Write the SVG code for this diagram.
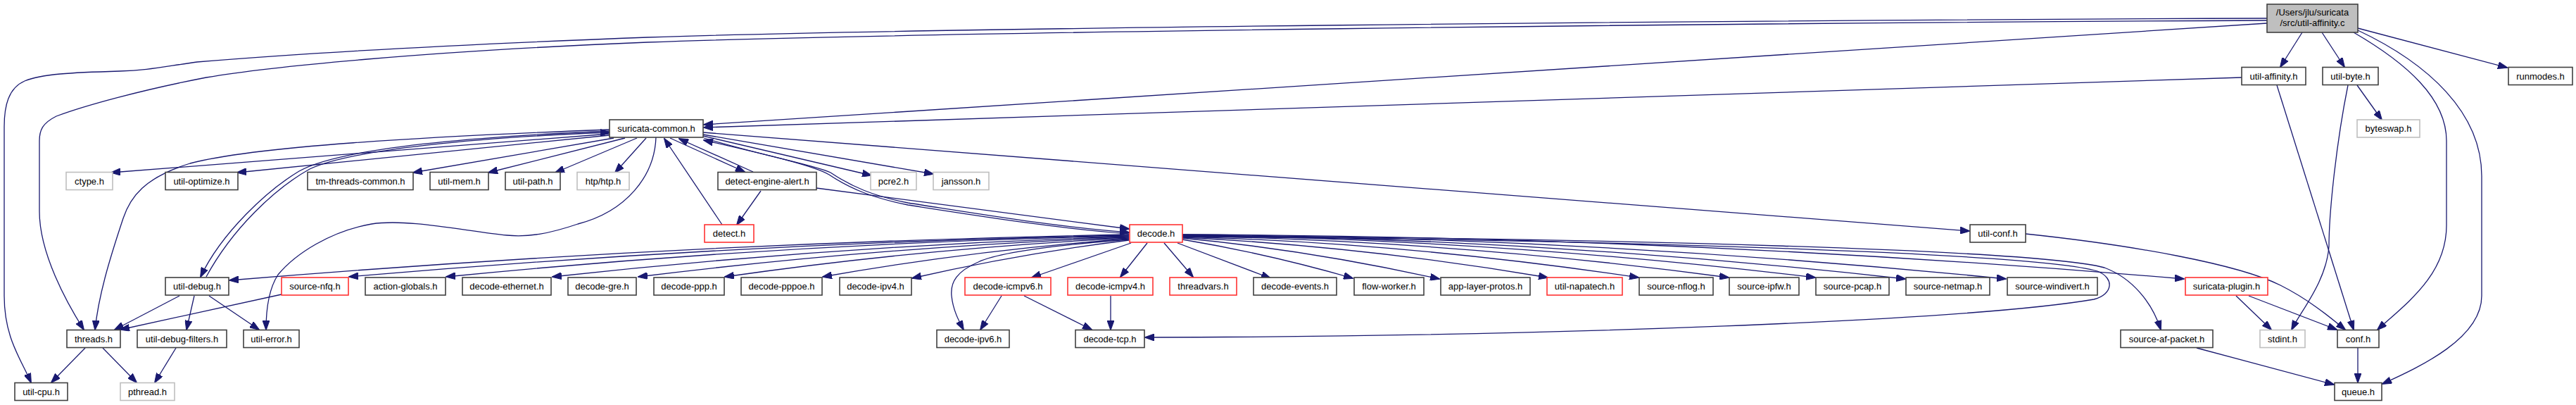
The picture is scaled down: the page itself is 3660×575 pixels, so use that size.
<svg xmlns="http://www.w3.org/2000/svg" width="3660" height="575" viewBox="0 0 3660 575">
<style>
.n rect{fill:#fff;stroke:#404040;stroke-width:1.6}
.n.g rect{stroke:#bfbfbf}
.n.r rect{stroke:#ff3333}
.n.m rect{fill:#bfbfbf;stroke:#404040}
.n text{font-family:"Liberation Sans",Arial,Helvetica,sans-serif;font-size:13px;text-anchor:middle;fill:#000}
#edges path{fill:none;stroke:#191970;stroke-width:1.3;marker-end:url(#ah)}
</style>
<defs>
<marker id="ah" markerUnits="userSpaceOnUse" markerWidth="14" markerHeight="10" viewBox="0 0 14 10" refX="13" refY="5" orient="auto">
<path d="M0,0 L14,5 L0,10 z" fill="#191970" stroke="#191970" stroke-width="1"/>
</marker>
</defs>
<rect width="3660" height="575" fill="#fff"/>
<g id="edges">
<path d="M3221,26 C2400,29 1300,40 920,53 C600,65 400,78 280,88 C230,95 210,100 170,101 C100,103 60,105 35,115 C12,125 6,150 6,180 L6,420 C6,480 30,510 44,543"/>
<path d="M3221,29 C2400,33 1300,46 920,60 C600,73 380,95 293,110 C200,128 120,150 80,165 C60,175 56,185 56,200 L56,300 C56,360 95,430 119,468"/>
<path d="M3221,33 L1000,177"/>
<path d="M3185,110 L1000,181"/>
<path d="M3271,46 L3240,95"/>
<path d="M3299,46 L3331,95"/>
<path d="M3350,40 L3562,96"/>
<path d="M3344,46 C3420,90 3476,140 3476,200 L3476,320 C3476,390 3420,430 3378,468"/>
<path d="M3350,43 C3450,90 3526,160 3526,250 L3526,420 C3526,480 3440,520 3385,545"/>
<path d="M3235,121 L3344,468"/>
<path d="M3336,121 C3320,200 3309,300 3309,350 C3305,400 3270,440 3256,468"/>
<path d="M3349,121 L3384,170"/>
<path d="M866,190 L158,245"/>
<path d="M866,192 L337,245"/>
<path d="M872,196 L587,245"/>
<path d="M888,196 L694,245"/>
<path d="M905,196 L789,245"/>
<path d="M918,196 L874,245"/>
<path d="M999,193 L1238,249"/>
<path d="M999,191 L1326,247"/>
<path d="M999,188 L2798,328"/>
<path d="M952,196 L1058,244"/>
<path d="M1070,244 L965,197"/>
<path d="M1026,319 L944,197"/>
<path d="M1081,271 L1047,319"/>
<path d="M1160,267 L1604,325"/>
<path d="M1000,196 C1100,225 1160,235 1180,245 C1210,265 1240,278 1290,288 C1400,305 1500,322 1604,330"/>
<path d="M1604,332 C1500,324 1400,308 1290,291 C1240,281 1208,268 1178,248 C1158,236 1100,222 1000,199"/>
<path d="M866,186 C650,195 480,212 425,243 C380,270 315,330 285,393"/>
<path d="M293,393 C330,325 390,268 440,240 C500,212 680,195 866,188"/>
<path d="M866,184 C600,194 360,208 270,232 C205,252 185,280 175,310 C155,370 140,420 135,468"/>
<path d="M932,195 C930,250 890,300 821,318 C780,332 750,337 720,334 C660,328 580,310 528,318 C470,328 420,360 395,390 C382,410 378,440 378,468"/>
<path d="M1604,333 Q965,345 326,398"/>
<path d="M1604,334 Q1050,345 496,393"/>
<path d="M1604,335 Q1120,345 634,393"/>
<path d="M1604,336 Q1195,348 785,393"/>
<path d="M1604,337 Q1255,350 907,393"/>
<path d="M1604,338 Q1317,352 1030,393"/>
<path d="M1604,339 Q1385,355 1169,393"/>
<path d="M1604,341 Q1450,360 1296,395"/>
<path d="M1604,340 C1500,348 1420,358 1390,372 C1360,385 1350,400 1352,420 C1354,440 1362,455 1369,468"/>
<path d="M1607,345 L1466,394"/>
<path d="M1630,345 L1592,393"/>
<path d="M1654,345 L1695,393"/>
<path d="M1673,345 L1805,395"/>
<path d="M1680,340 Q1800,360 1922,395"/>
<path d="M1680,338 Q1860,355 2045,396"/>
<path d="M1680,337 Q1940,350 2199,394"/>
<path d="M1680,336 Q2000,345 2328,394"/>
<path d="M1680,335 Q2070,342 2456,394"/>
<path d="M1680,334 Q2130,340 2579,394"/>
<path d="M1680,334 Q2190,338 2707,396"/>
<path d="M1680,333 Q2260,337 2850,396"/>
<path d="M1680,333 Q2400,336 3103,396"/>
<path d="M1680,335 C2300,338 2900,355 2990,380 C3030,395 3058,430 3070,468"/>
<path d="M1680,336 C2300,340 2900,360 2980,385 C3005,395 3002,418 2975,425 C2800,455 2200,478 1627,479"/>
<path d="M400,418 L171,468"/>
<path d="M255,420 L163,468"/>
<path d="M276,420 L265,468"/>
<path d="M297,420 L368,468"/>
<path d="M121,494 L73,543"/>
<path d="M146,494 L194,543"/>
<path d="M250,494 L220,543"/>
<path d="M1423,420 L1393,468"/>
<path d="M1455,420 L1551,468"/>
<path d="M1578,420 L1578,468"/>
<path d="M3177,420 L3227,468"/>
<path d="M3195,420 L3320,468"/>
<path d="M3121,494 L3316,546"/>
<path d="M3350,494 L3350,543"/>
<path d="M2878,332 C3030,348 3180,375 3240,405 C3280,425 3310,450 3332,468"/>
</g>
<g id="n-main" class="n m"><rect x="3221" y="6" width="129" height="40"/><text x="3285.5" y="22">/Users/jlu/suricata</text><text x="3285.5" y="37">/src/util-affinity.c</text></g>
<g id="n-util-affinity" class="n"><rect x="3185" y="95.5" width="91" height="25"/><text x="3230.5" y="112.5">util-affinity.h</text></g>
<g id="n-util-byte" class="n"><rect x="3300" y="95.5" width="79" height="25"/><text x="3339.5" y="112.5">util-byte.h</text></g>
<g id="n-runmodes" class="n"><rect x="3564" y="95.5" width="91" height="25"/><text x="3609.5" y="112.5">runmodes.h</text></g>
<g id="n-suricata-common" class="n"><rect x="866" y="170" width="133" height="25"/><text x="932.5" y="187">suricata-common.h</text></g>
<g id="n-byteswap" class="n g"><rect x="3349" y="170" width="89" height="25"/><text x="3393.5" y="187">byteswap.h</text></g>
<g id="n-ctype" class="n g"><rect x="94" y="244.5" width="66" height="25"/><text x="127" y="261.5">ctype.h</text></g>
<g id="n-util-optimize" class="n"><rect x="235" y="244.5" width="103" height="25"/><text x="286.5" y="261.5">util-optimize.h</text></g>
<g id="n-tm-threads-common" class="n"><rect x="437" y="244.5" width="150" height="25"/><text x="512" y="261.5">tm-threads-common.h</text></g>
<g id="n-util-mem" class="n"><rect x="611" y="244.5" width="83" height="25"/><text x="652.5" y="261.5">util-mem.h</text></g>
<g id="n-util-path" class="n"><rect x="718" y="244.5" width="78" height="25"/><text x="757" y="261.5">util-path.h</text></g>
<g id="n-htp" class="n g"><rect x="820" y="244.5" width="74" height="25"/><text x="857" y="261.5">htp/htp.h</text></g>
<g id="n-detect-engine-alert" class="n"><rect x="1020" y="244.5" width="140" height="25"/><text x="1090" y="261.5">detect-engine-alert.h</text></g>
<g id="n-pcre2" class="n g"><rect x="1237" y="244.5" width="65" height="25"/><text x="1269.5" y="261.5">pcre2.h</text></g>
<g id="n-jansson" class="n g"><rect x="1326" y="244.5" width="79" height="25"/><text x="1365.5" y="261.5">jansson.h</text></g>
<g id="n-detect" class="n r"><rect x="1001" y="319" width="70" height="25"/><text x="1036" y="336">detect.h</text></g>
<g id="n-decode" class="n r"><rect x="1605" y="319" width="75" height="25"/><text x="1642.5" y="336">decode.h</text></g>
<g id="n-util-conf" class="n"><rect x="2799" y="319" width="79" height="25"/><text x="2838.5" y="336">util-conf.h</text></g>
<g id="n-util-debug" class="n"><rect x="235" y="394" width="90" height="25"/><text x="280" y="411">util-debug.h</text></g>
<g id="n-source-nfq" class="n r"><rect x="400" y="394" width="95" height="25"/><text x="447.5" y="411">source-nfq.h</text></g>
<g id="n-action-globals" class="n"><rect x="519" y="394" width="114" height="25"/><text x="576" y="411">action-globals.h</text></g>
<g id="n-decode-ethernet" class="n"><rect x="657" y="394" width="126" height="25"/><text x="720" y="411">decode-ethernet.h</text></g>
<g id="n-decode-gre" class="n"><rect x="807" y="394" width="97" height="25"/><text x="855.5" y="411">decode-gre.h</text></g>
<g id="n-decode-ppp" class="n"><rect x="929" y="394" width="100" height="25"/><text x="979" y="411">decode-ppp.h</text></g>
<g id="n-decode-pppoe" class="n"><rect x="1053" y="394" width="115" height="25"/><text x="1110.5" y="411">decode-pppoe.h</text></g>
<g id="n-decode-ipv4" class="n"><rect x="1193" y="394" width="102" height="25"/><text x="1244" y="411">decode-ipv4.h</text></g>
<g id="n-decode-icmpv6" class="n r"><rect x="1371" y="394" width="122" height="25"/><text x="1432" y="411">decode-icmpv6.h</text></g>
<g id="n-decode-icmpv4" class="n r"><rect x="1517" y="394" width="121" height="25"/><text x="1577.5" y="411">decode-icmpv4.h</text></g>
<g id="n-threadvars" class="n r"><rect x="1662" y="394" width="95" height="25"/><text x="1709.5" y="411">threadvars.h</text></g>
<g id="n-decode-events" class="n"><rect x="1781" y="394" width="118" height="25"/><text x="1840" y="411">decode-events.h</text></g>
<g id="n-flow-worker" class="n"><rect x="1924" y="394" width="99" height="25"/><text x="1973.5" y="411">flow-worker.h</text></g>
<g id="n-app-layer-protos" class="n"><rect x="2047" y="394" width="127" height="25"/><text x="2110.5" y="411">app-layer-protos.h</text></g>
<g id="n-util-napatech" class="n r"><rect x="2198" y="394" width="107" height="25"/><text x="2251.5" y="411">util-napatech.h</text></g>
<g id="n-source-nflog" class="n"><rect x="2329" y="394" width="105" height="25"/><text x="2381.5" y="411">source-nflog.h</text></g>
<g id="n-source-ipfw" class="n"><rect x="2457" y="394" width="99" height="25"/><text x="2506.5" y="411">source-ipfw.h</text></g>
<g id="n-source-pcap" class="n"><rect x="2580" y="394" width="104" height="25"/><text x="2632" y="411">source-pcap.h</text></g>
<g id="n-source-netmap" class="n"><rect x="2708" y="394" width="119" height="25"/><text x="2767.5" y="411">source-netmap.h</text></g>
<g id="n-source-windivert" class="n"><rect x="2852" y="394" width="128" height="25"/><text x="2916" y="411">source-windivert.h</text></g>
<g id="n-suricata-plugin" class="n r"><rect x="3105" y="394" width="117" height="25"/><text x="3163.5" y="411">suricata-plugin.h</text></g>
<g id="n-threads" class="n"><rect x="95" y="468.5" width="76" height="25"/><text x="133" y="485.5">threads.h</text></g>
<g id="n-util-debug-filters" class="n"><rect x="195" y="468.5" width="127" height="25"/><text x="258.5" y="485.5">util-debug-filters.h</text></g>
<g id="n-util-error" class="n"><rect x="346" y="468.5" width="79" height="25"/><text x="385.5" y="485.5">util-error.h</text></g>
<g id="n-decode-ipv6" class="n"><rect x="1331" y="468.5" width="103" height="25"/><text x="1382.5" y="485.5">decode-ipv6.h</text></g>
<g id="n-decode-tcp" class="n"><rect x="1528" y="468.5" width="98" height="25"/><text x="1577" y="485.5">decode-tcp.h</text></g>
<g id="n-source-af-packet" class="n"><rect x="3013" y="468.5" width="131" height="25"/><text x="3078.5" y="485.5">source-af-packet.h</text></g>
<g id="n-stdint" class="n g"><rect x="3211" y="468.5" width="64" height="25"/><text x="3243" y="485.5">stdint.h</text></g>
<g id="n-conf" class="n"><rect x="3321" y="468.5" width="59" height="25"/><text x="3350.5" y="485.5">conf.h</text></g>
<g id="n-util-cpu" class="n"><rect x="21" y="543.5" width="75" height="25"/><text x="58.5" y="560.5">util-cpu.h</text></g>
<g id="n-pthread" class="n g"><rect x="171" y="543.5" width="77" height="25"/><text x="209.5" y="560.5">pthread.h</text></g>
<g id="n-queue" class="n"><rect x="3317" y="543.5" width="67" height="25"/><text x="3350.5" y="560.5">queue.h</text></g>
</svg>
